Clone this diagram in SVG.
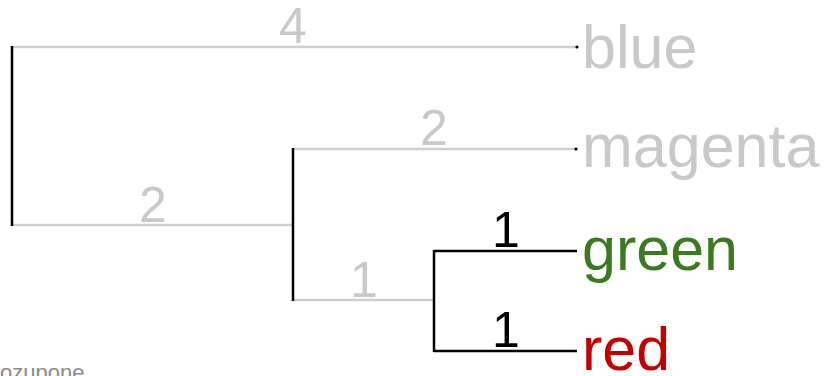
<svg xmlns="http://www.w3.org/2000/svg" width="827" height="376" viewBox="0 0 827 376">
<style>
text{font-family:"Liberation Sans",Arial,sans-serif}
.g{stroke:#cfcfcf;stroke-width:2.5;fill:none}
.k{stroke:#000;stroke-width:2.5;fill:none}
.bl{font-size:50px;text-anchor:middle}
.lg{fill:#c9c9c9}
.lk{fill:#000}
.leaf{font-size:61px}
</style>
<rect width="827" height="376" fill="#fff"/>
<g id="connectors">
<path class="g" d="M12 47H578"/>
<path class="g" d="M12 225H293"/>
<path class="g" d="M293 149H577"/>
<path class="g" d="M293 300H434"/>
<path class="k" d="M434 251H577"/>
<path class="k" d="M434 351H577"/>
<path class="k" d="M12 46V226"/>
<path class="k" d="M293 148V301"/>
<path class="k" d="M434 250V352"/>
<circle cx="577" cy="47" r="1.6" fill="#000"/>
<circle cx="576" cy="149" r="1.6" fill="#000"/>
<text class="bl lg" x="293" y="43">4</text>
<text class="bl lg" x="153" y="222">2</text>
<text class="bl lg" x="434" y="145">2</text>
<text class="bl lg" x="364" y="297">1</text>
<text class="bl lk" x="506" y="247">1</text>
<text class="bl lk" x="506" y="347">1</text>
</g>
<g id="blue"><text class="leaf" x="582" y="68" fill="#c9c9c9">blue</text></g>
<g id="magenta"><text class="leaf" x="582" y="167" fill="#c9c9c9">magenta</text></g>
<g id="green"><text class="leaf" x="582" y="270" fill="#3a7a20">green</text></g>
<g id="red"><text class="leaf" x="582" y="370" fill="#c40000">red</text></g>
<text x="0" y="380" font-size="22" fill="#8a8a8a">ozupone</text>
</svg>
